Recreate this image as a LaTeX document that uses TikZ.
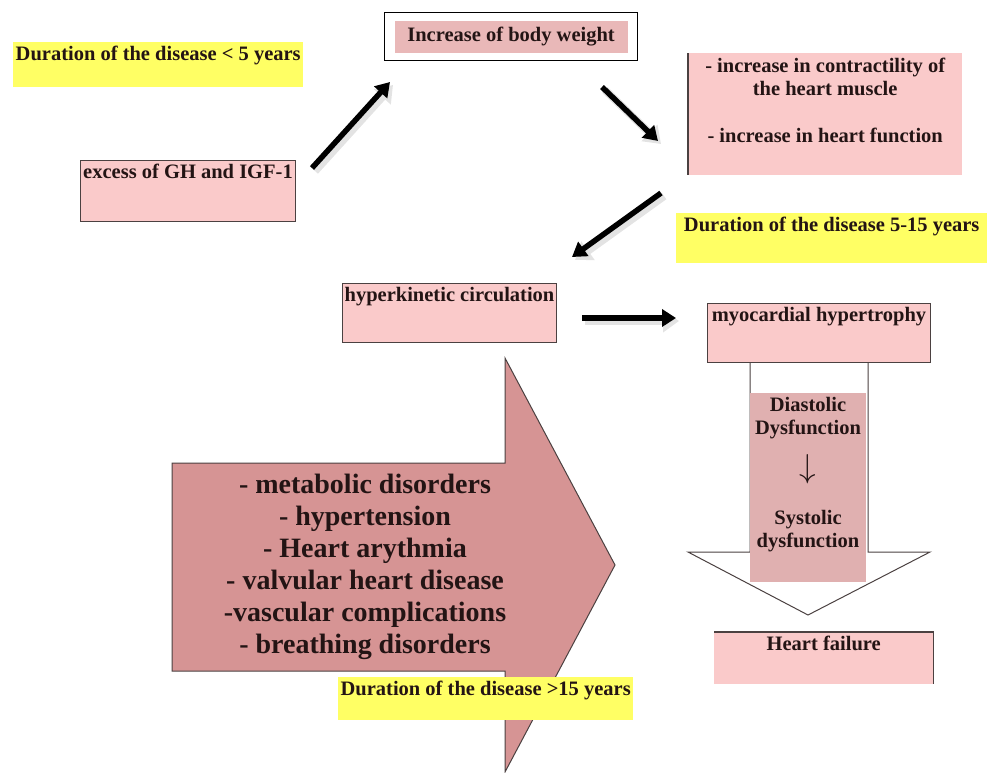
\documentclass[tikz,border=0pt]{standalone}
\usepackage{fontspec}
\setmainfont{Liberation Serif}
\usetikzlibrary{arrows.meta,positioning}
\definecolor{boxpink}{RGB}{250,202,202}
\definecolor{innerpink}{RGB}{233,184,184}
\definecolor{downpink}{RGB}{224,176,176}
\definecolor{bigpink}{RGB}{214,148,148}
\definecolor{hiyellow}{RGB}{255,255,100}
\definecolor{edge}{RGB}{75,65,65}
\definecolor{textdark}{RGB}{35,20,20}
\begin{document}
\begin{tikzpicture}[x=1pt,y=-1pt,
    every node/.style={font=\bfseries\fontsize{20.5}{23}\selectfont,text=textdark,inner sep=0pt},
    tbox/.style={text height=14pt,inner ysep=4pt,inner xsep=2pt,anchor=north west},
    pinkbox/.style={tbox,fill=boxpink,draw=edge,line width=1pt},
    yellowbox/.style={tbox,fill=hiyellow},
    fatarrow/.style={line width=5.5pt,-{Triangle[length=14pt,width=17pt]}},
    arrowshade/.style={line width=8pt,draw=gray!22,-{Triangle[length=16pt,width=22pt]},
        transform canvas={shift={(3pt,-3pt)}}}]
    \useasboundingbox (0,0) rectangle (987,772);
    % big arrow of complications
    \draw[fill=bigpink,draw=edge,line width=1pt] (172,463) -- (505,463) -- (505,358) -- (615,565)
        -- (505,772) -- (505,671) -- (172,671) -- cycle;
    \node[align=center,font=\bfseries\fontsize{28}{32}\selectfont] (compl) at (365,567)
        {- metabolic disorders\\- hypertension\\- Heart arythmia\\- valvular heart disease\\-vascular complications\\- breathing disorders};
    % down arrow
    \draw[fill=white,draw=edge,line width=1pt] (750,362) -- (868,362) -- (868,552) -- (930,552)
        -- (808,615) -- (688,552) -- (750,552) -- cycle;
    \node[fill=downpink,minimum width=116,minimum height=189,anchor=north west] (dysf) at (750,393) {};
    \node[align=center] (diast) at (808,418) {Diastolic\\Dysfunction};
    \node (thin) at (808,469) {\scalebox{1.6}{$\downarrow$}};
    \node[align=center] (syst) at (808,531) {Systolic\\dysfunction};
    % boxes
    \node[yellowbox,minimum width=290,text depth=23pt] (dur1) at (13,42) {Duration of the disease < 5 years};
    \node[draw=black,line width=1.2pt,fill=white,minimum width=253,minimum height=48,anchor=north west] (weightframe) at (384,12) {};
    \node[fill=innerpink,minimum width=233,minimum height=32] (weight) at (weightframe) {Increase of body weight};
    \node[pinkbox,minimum width=215,text depth=39pt] (excess) at (80,160) {excess of GH and IGF-1};
    \node[fill=boxpink,minimum width=274,minimum height=122,anchor=north west] (heartfx) at (688,53) {};
    \draw[edge,line width=1.2pt] (heartfx.north west) -- (heartfx.south west);
    \node[align=center,anchor=north] (heartfxtext) at ([yshift=-5pt]heartfx.north)
        {- increase in contractility of\\the heart muscle\\[24pt]- increase in heart function};
    \node[yellowbox,minimum width=311,text depth=28pt] (dur2) at (676,213) {Duration of the disease 5-15 years};
    \node[pinkbox,minimum width=214,text depth=37pt] (hyper) at (342,283) {hyperkinetic circulation};
    \node[pinkbox,minimum width=223,text depth=37pt] (hypertr) at (707,303) {myocardial hypertrophy};
    \node[tbox,fill=boxpink,minimum width=219,text depth=30pt] (failure) at (714,632) {Heart failure};
    \draw[edge,line width=1.2pt] (failure.north west) -- (failure.north east) -- (failure.south east);
    \node[yellowbox,minimum width=295,text depth=21pt] (dur3) at (338,677) {Duration of the disease >15 years};
    % black arrows
    \coordinate (a1s) at (312,168); \coordinate (a1e) at (390,82);
    \coordinate (a2s) at (602,87);  \coordinate (a2e) at (658,141);
    \coordinate (a3s) at (661,193); \coordinate (a3e) at (572,257);
    \coordinate (a4s) at (582,318); \coordinate (a4e) at (676,318);
    \draw[arrowshade] (a1s) -- (a1e);
    \draw[arrowshade] (a2s) -- (a2e);
    \draw[arrowshade] (a3s) -- (a3e);
    \draw[arrowshade] (a4s) -- (a4e);
    \draw[fatarrow] (a1s) -- (a1e);
    \draw[fatarrow] (a2s) -- (a2e);
    \draw[fatarrow] (a3s) -- (a3e);
    \draw[fatarrow] (a4s) -- (a4e);
\end{tikzpicture}
\end{document}
